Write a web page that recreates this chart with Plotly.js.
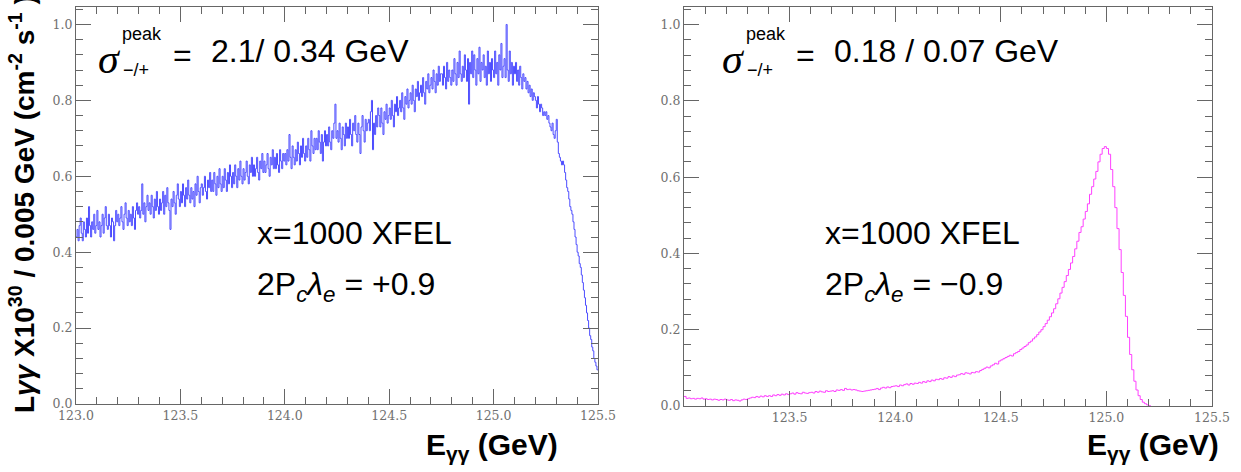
<!DOCTYPE html>
<html><head><meta charset="utf-8">
<script src="https://cdn.plot.ly/plotly-3.0.1.min.js"></script>
<style>html,body{margin:0;padding:0;background:#fff}</style>
</head><body><div id="chart" style="width:1241px;height:472px"></div>
<script>
// ---- data ----
const binStart = 123.0;
const binWidthPlus = 0.005;   // left panel bins (GeV)
const binWidthMinus = 0.01;   // right panel bins (GeV)

// left panel: 2Pc*lambda_e = +0.9 (0.005 GeV bins from 123.000)
const lumiPlus = [
0.44,0.46,0.43,0.47,0.49,0.45,0.43,0.48,0.46,0.44,
0.49,0.45,0.52,0.47,0.44,0.48,0.46,0.50,0.45,0.47,
0.51,0.46,0.48,0.44,0.47,0.50,0.45,0.49,0.52,0.47,
0.46,0.50,0.47,0.44,0.49,0.48,0.43,0.47,0.51,0.48,
0.50,0.47,0.49,0.52,0.48,0.46,0.50,0.53,0.49,0.47,
0.51,0.48,0.50,0.47,0.52,0.49,0.46,0.51,0.53,0.50,
0.52,0.49,0.51,0.58,0.50,0.53,0.48,0.52,0.55,0.51,
0.53,0.50,0.55,0.52,0.49,0.54,0.51,0.56,0.52,0.50,
0.54,0.51,0.53,0.56,0.50,0.55,0.52,0.57,0.53,0.51,
0.46,0.54,0.52,0.56,0.53,0.50,0.55,0.58,0.54,0.52,
0.56,0.53,0.58,0.55,0.52,0.57,0.54,0.59,0.55,0.53,
0.57,0.54,0.56,0.52,0.58,0.55,0.60,0.56,0.53,0.57,
0.58,0.55,0.57,0.60,0.56,0.54,0.59,0.57,0.61,0.56,
0.59,0.56,0.61,0.58,0.55,0.60,0.57,0.62,0.58,0.56,
0.60,0.57,0.62,0.59,0.56,0.61,0.58,0.63,0.60,0.57,
0.61,0.58,0.63,0.60,0.57,0.62,0.59,0.64,0.60,0.58,
0.62,0.59,0.61,0.64,0.60,0.58,0.63,0.61,0.65,0.60,
0.63,0.60,0.62,0.65,0.61,0.59,0.64,0.62,0.66,0.61,
0.64,0.61,0.63,0.66,0.62,0.60,0.65,0.63,0.67,0.62,
0.65,0.62,0.66,0.63,0.61,0.67,0.64,0.62,0.66,0.64,
0.66,0.63,0.67,0.64,0.71,0.65,0.62,0.68,0.65,0.63,
0.67,0.64,0.69,0.66,0.63,0.68,0.65,0.70,0.66,0.64,
0.68,0.65,0.70,0.67,0.64,0.72,0.68,0.66,0.70,0.67,
0.70,0.67,0.72,0.69,0.66,0.71,0.64,0.69,0.72,0.68,
0.71,0.68,0.73,0.69,0.67,0.72,0.70,0.74,0.79,0.70,
0.72,0.69,0.74,0.70,0.67,0.73,0.71,0.68,0.74,0.70,
0.73,0.70,0.75,0.71,0.68,0.74,0.72,0.76,0.71,0.69,
0.74,0.71,0.66,0.73,0.76,0.72,0.69,0.75,0.72,0.74,
0.75,0.72,0.77,0.80,0.67,0.74,0.71,0.76,0.73,0.78,
0.76,0.73,0.78,0.74,0.71,0.77,0.75,0.79,0.74,0.76,
0.78,0.75,0.80,0.76,0.73,0.79,0.77,0.81,0.76,0.78,
0.80,0.77,0.82,0.78,0.75,0.81,0.79,0.83,0.78,0.80,
0.82,0.79,0.84,0.80,0.77,0.83,0.81,0.85,0.80,0.82,
0.84,0.81,0.86,0.82,0.79,0.85,0.83,0.87,0.82,0.84,
0.86,0.83,0.88,0.85,0.82,0.87,0.84,0.89,0.85,0.87,
0.87,0.84,0.89,0.86,0.83,0.90,0.85,0.88,0.86,0.84,
0.88,0.85,0.91,0.87,0.84,0.90,0.86,0.93,0.87,0.85,
0.89,0.86,0.92,0.88,0.85,0.91,0.79,0.90,0.87,0.93,
0.86,0.92,0.88,0.84,0.91,0.87,0.94,0.85,0.90,0.88,
0.92,0.86,0.89,0.84,0.93,0.87,0.90,0.85,0.91,0.88,
0.86,0.93,0.87,0.90,0.84,0.92,0.88,0.95,0.86,0.89,
0.91,0.86,1.00,0.88,0.85,0.93,0.87,0.90,0.84,0.89,
0.87,0.90,0.85,0.88,0.84,0.89,0.86,0.83,0.87,0.85,
0.86,0.83,0.85,0.82,0.84,0.81,0.83,0.80,0.82,0.81,
0.80,0.78,0.81,0.79,0.77,0.79,0.78,0.76,0.77,0.76,
0.77,0.75,0.76,0.74,0.73,0.72,0.74,0.71,0.70,0.72,
0.75,0.69,0.66,0.65,0.64,0.63,0.64,0.63,0.61,0.59,
0.57,0.56,0.54,0.52,0.51,0.50,0.48,0.46,0.44,0.42,
0.40,0.39,0.37,0.36,0.34,0.32,0.30,0.28,0.26,0.24,
0.22,0.20,0.18,0.17,0.15,0.14,0.12,0.11,0.10,0.09
];

// right panel: 2Pc*lambda_e = -0.9 (0.01 GeV bins from 123.00)
const lumiMinus = [
0.025,0.020,0.021,0.019,0.020,0.018,0.020,0.019,0.021,0.018,
0.019,0.017,0.018,0.016,0.018,0.017,0.015,0.017,0.016,0.018,
0.016,0.015,0.017,0.014,0.016,0.015,0.013,0.016,0.018,0.017,
0.019,0.021,0.023,0.022,0.025,0.023,0.026,0.024,0.027,0.025,
0.027,0.025,0.029,0.027,0.030,0.028,0.031,0.029,0.032,0.030,
0.032,0.034,0.031,0.035,0.033,0.032,0.036,0.034,0.033,0.035,
0.036,0.034,0.038,0.036,0.039,0.037,0.036,0.040,0.038,0.039,
0.040,0.038,0.042,0.041,0.043,0.041,0.046,0.043,0.044,0.042,
0.043,0.042,0.040,0.039,0.038,0.039,0.040,0.041,0.042,0.043,
0.044,0.046,0.043,0.047,0.049,0.047,0.050,0.048,0.051,0.052,
0.053,0.051,0.055,0.053,0.056,0.058,0.055,0.059,0.057,0.060,
0.059,0.062,0.060,0.064,0.062,0.066,0.064,0.068,0.066,0.070,
0.069,0.072,0.070,0.074,0.073,0.077,0.075,0.079,0.077,0.081,
0.082,0.085,0.083,0.087,0.086,0.084,0.088,0.087,0.090,0.089,
0.093,0.096,0.099,0.102,0.100,0.105,0.108,0.112,0.110,0.118,
0.121,0.124,0.127,0.130,0.133,0.131,0.137,0.140,0.143,0.148,
0.152,0.156,0.160,0.166,0.170,0.176,0.181,0.187,0.194,0.200,
0.208,0.216,0.225,0.234,0.244,0.255,0.268,0.281,0.296,0.311,
0.326,0.342,0.358,0.375,0.392,0.412,0.432,0.455,0.470,0.490,
0.510,0.530,0.555,0.575,0.595,0.615,0.640,0.660,0.675,0.680,
0.675,0.660,0.620,0.575,0.520,0.465,0.410,0.350,0.290,0.235,
0.180,0.135,0.095,0.065,0.042,0.027,0.017,0.010,0.006,0.003,
0.001
];

const xRange = [123.0, 125.5];
const yRange = [0, 1.046];
const xTickValsLeft = [123.0, 123.5, 124.0, 124.5, 125.0, 125.5];
const xTickTextLeft = ['123.0', '123.5', '124.0', '124.5', '125.0', '125.5'];
const xTickValsRight = [123.5, 124.0, 124.5, 125.0, 125.5];
const xTickTextRight = ['123.5', '124.0', '124.5', '125.0', '125.5'];
const yTickVals = [0, 0.2, 0.4, 0.6, 0.8, 1.0];
const yTickText = ['0.0', '0.2', '0.4', '0.6', '0.8', '1.0'];

// ---- helpers ----
function stepTrace(vals, width, xa, ya, color) {
  const xs = [], ys = [];
  for (let i = 0; i <= vals.length; i++) {
    xs.push(binStart + i * width);
    ys.push(vals[Math.min(i, vals.length - 1)]);
  }
  return {x: xs, y: ys, xaxis: xa, yaxis: ya, type: 'scatter', mode: 'lines',
          line: {color: color, width: 1, shape: 'hv'}, hoverinfo: 'skip', showlegend: false};
}

const W = 1241, H = 472;
const fx = p => p / W, fy = p => 1 - p / H;

const frameL = {x0: 76, x1: 598, y0: 7, y1: 404};
const frameR = {x0: 684, x1: 1212, y0: 7, y1: 406};

const tickFont = {family: 'DejaVu Serif, serif', size: 12.5, color: '#707070'};
function xAxis(fr, tv, tt) {
  return {domain: [fx(fr.x0), fx(fr.x1)], range: xRange,
    showgrid: false, zeroline: false, showline: true, linecolor: '#666', linewidth: 1, mirror: 'ticks',
    ticks: 'inside', ticklen: 15, tickwidth: 1, tickcolor: '#666',
    tickmode: 'array', tickvals: tv, ticktext: tt, tickfont: tickFont,
    minor: {tickmode: 'linear', tick0: 123, dtick: 0.1, ticks: 'inside', ticklen: 7, tickcolor: '#666', tickwidth: 1},
    fixedrange: true};
}
function yAxis(fr) {
  return {domain: [fy(fr.y1), fy(fr.y0)], range: yRange,
    showgrid: false, zeroline: false, showline: true, linecolor: '#666', linewidth: 1, mirror: 'ticks',
    ticks: 'inside', ticklen: 15, tickwidth: 1, tickcolor: '#666',
    tickmode: 'array', tickvals: yTickVals, ticktext: yTickText, tickfont: tickFont,
    minor: {tickmode: 'linear', tick0: 0, dtick: 0.04, ticks: 'inside', ticklen: 7, tickcolor: '#666', tickwidth: 1},
    fixedrange: true};
}

const xa1 = xAxis(frameL, xTickValsLeft, xTickTextLeft); xa1.anchor = 'y';
const ya1 = yAxis(frameL); ya1.anchor = 'x';
const xa2 = xAxis(frameR, xTickValsRight, xTickTextRight); xa2.anchor = 'y2';
const ya2 = yAxis(frameR); ya2.anchor = 'x2';

const sans = 'Liberation Sans, Arial, sans-serif';
function ann(text, px, py, size, opts) {
  return Object.assign({text: text, x: fx(px), y: fy(py), xref: 'paper', yref: 'paper',
    xanchor: 'left', yanchor: 'middle', showarrow: false,
    font: {family: sans, size: size, color: '#000'}}, opts || {});
}
const serifIt = {family: 'Liberation Serif, serif', size: 42, color: '#000'};
const lambdaLine = s => '2P<sub><i>c</i></sub><i>λ</i><sub><i>e</i></sub> = ' + s;

const annotations = [
  // left panel
  ann('<i>σ</i>', 96, 59, 42, {font: serifIt}),
  ann('peak', 120, 34, 18),
  ann('−/+', 121, 70, 18),
  ann('=', 171, 55, 32),
  ann('2.1/ 0.34 GeV', 209, 51, 32),
  ann('x=1000 XFEL', 255, 233, 32),
  ann(lambdaLine('+0.9'), 255, 286, 32),
  // right panel
  ann('<i>σ</i>', 720, 59, 42, {font: serifIt}),
  ann('peak', 744, 34, 18),
  ann('−/+', 745, 70, 18),
  ann('=', 794, 55, 32),
  ann('0.18 / 0.07 GeV', 832, 51, 32),
  ann('x=1000 XFEL', 823, 233, 32),
  ann(lambdaLine('−0.9'), 823, 286, 32),
  // axis titles
  ann('<b>E<sub>γγ</sub> (GeV)</b>', 560, 446, 30, {xanchor: 'right'}),
  ann('<b>E<sub>γγ</sub> (GeV)</b>', 1221, 446, 30, {xanchor: 'right'}),
  ann('<b>L<i>γγ</i> X10<sup>30</sup> / 0.005 GeV (cm<sup>-2</sup> s<sup>-1</sup> )</b>', 22, 204, 28,
      {xanchor: 'center', yanchor: 'middle', textangle: -90})
];

const data = [
  stepTrace(lumiPlus, binWidthPlus, 'x', 'y', '#4d4dff'),
  stepTrace(lumiMinus, binWidthMinus, 'x2', 'y2', '#ff40ff')
];

const layout = {
  width: W, height: H, margin: {l: 0, r: 0, t: 0, b: 0},
  paper_bgcolor: '#fff', plot_bgcolor: '#fff', showlegend: false,
  xaxis: xa1, yaxis: ya1, xaxis2: xa2, yaxis2: ya2,
  annotations: annotations
};

Plotly.newPlot('chart', data, layout, {displayModeBar: false, staticPlot: true});
</script>
</body></html>
